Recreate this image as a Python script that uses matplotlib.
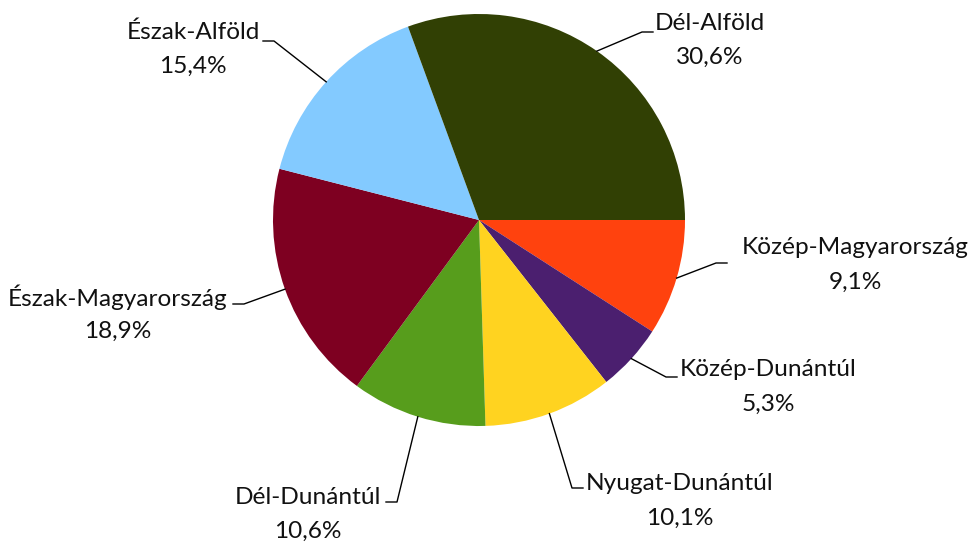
import numpy as np
import matplotlib.pyplot as plt

plt.rcParams['font.family'] = ['Lato', 'DejaVu Sans']

# data (clockwise from 3 o'clock)
regions = ['Közép-Magyarország', 'Közép-Dunántúl', 'Nyugat-Dunántúl', 'Dél-Dunántúl',
           'Észak-Magyarország', 'Észak-Alföld', 'Dél-Alföld']
shares = [9.1, 5.3, 10.1, 10.6, 18.9, 15.4, 30.6]
colors = ['#FF420E', '#4B1F6F', '#FFD320', '#579D1C', '#7E0021', '#83CAFF', '#314004']

# label layout in pixel coords (y down): name line centre, stub end, stub direction
label_xy = [(855, 248), (768, 370), (680, 484), (308, 497), (118, 297), (193, 32), (710, 23)]
stub_end = [(727, 263), (677, 377), (583, 488), (386, 502), (233, 304), (263, 41), (653, 32)]
stub_dir = [1, 1, 1, -1, -1, -1, 1]

W, H = 973, 547
cx, cy, r = 479, 220, 206

fig = plt.figure(figsize=(W / 100, H / 100), dpi=100)
ax = fig.add_axes([0, 0, 1, 1])

wedges, _ = ax.pie(shares, colors=colors, startangle=0, counterclock=True,
                   center=(cx, cy), radius=r, frame=True,
                   wedgeprops=dict(linewidth=0))
ax.set_xlim(0, W)
ax.set_ylim(H, 0)
ax.set_aspect('equal')
ax.axis('off')

for w, name, v, (tx, ty), (sx, sy), d in zip(wedges, regions, shares, label_xy, stub_end, stub_dir):
    mid = np.deg2rad((w.theta1 + w.theta2) / 2)
    px, py = cx + r * np.cos(mid), cy + r * np.sin(mid)
    ex = sx - d * 11
    ax.plot([px, ex, sx], [py, sy, sy], color='black', lw=1)
    ax.text(tx, ty, name, ha='center', va='center', fontsize=17.6, color='#111111')
    ax.text(tx, ty + 34, f'{v:.1f}%'.replace('.', ','), ha='center', va='center',
            fontsize=17.6, color='#111111')

fig.savefig('out.png', dpi=100)
